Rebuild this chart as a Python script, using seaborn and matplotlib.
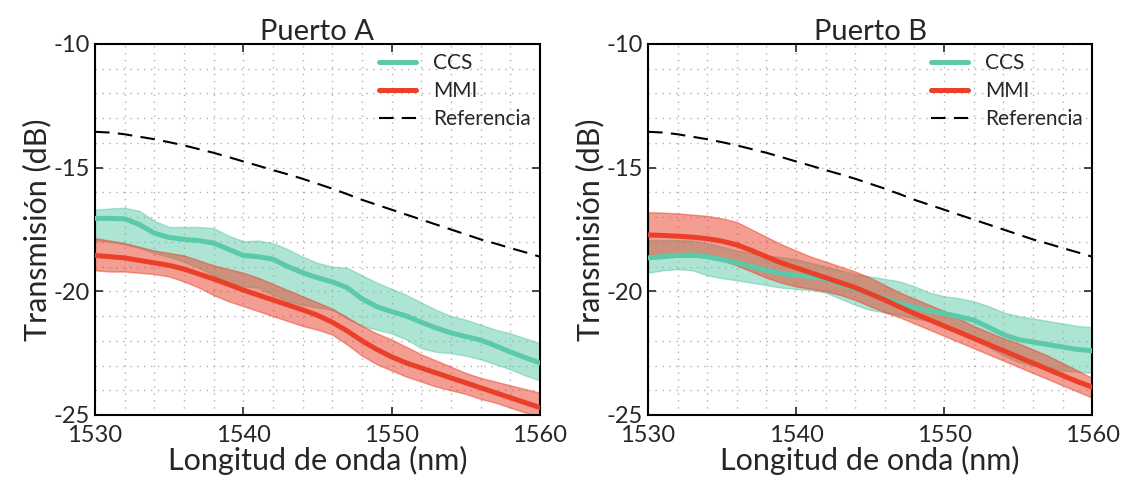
import numpy as np
import pandas as pd
import matplotlib
matplotlib.use("Agg")
import matplotlib.pyplot as plt
import seaborn as sns
from matplotlib.ticker import MultipleLocator

wavelength = list(range(1530, 1561))

reference = [-13.55, -13.58, -13.65, -13.75, -13.85, -13.97, -14.1, -14.25, -14.4, -14.57,
             -14.75, -14.92, -15.1, -15.27, -15.45, -15.65, -15.85, -16.07, -16.3, -16.5,
             -16.7, -16.9, -17.1, -17.3, -17.5, -17.7, -17.9, -18.07, -18.25, -18.42, -18.6]

# Puerto A
ccs_a = [-17.05, -17.05, -17.07, -17.3, -17.65, -17.82, -17.9, -17.95, -18.05, -18.3,
         -18.55, -18.6, -18.7, -19.0, -19.25, -19.45, -19.62, -19.85, -20.3, -20.62,
         -20.82, -21.0, -21.25, -21.48, -21.68, -21.83, -21.97, -22.2, -22.45, -22.68, -22.9]
ccs_a_hi = [-16.7, -16.65, -16.62, -16.75, -17.15, -17.4, -17.4, -17.4, -17.45, -17.75,
            -17.98, -17.95, -18.05, -18.3, -18.6, -18.85, -19.0, -19.05, -19.35, -19.65,
            -19.9, -20.15, -20.45, -20.75, -21.0, -21.15, -21.35, -21.55, -21.7, -21.9, -22.1]
ccs_a_lo = [-17.95, -18.0, -18.1, -18.25, -18.45, -18.6, -18.8, -19.05, -19.35, -19.65,
            -19.8, -19.85, -20.15, -20.4, -20.55, -20.65, -20.75, -21.1, -21.4, -21.55,
            -21.7, -21.95, -22.3, -22.45, -22.5, -22.6, -22.75, -22.95, -23.15, -23.4, -23.6]
mmi_a = [-18.55, -18.6, -18.65, -18.75, -18.85, -18.95, -19.1, -19.3, -19.5, -19.72,
         -19.95, -20.15, -20.35, -20.55, -20.75, -20.97, -21.25, -21.6, -22.0, -22.35,
         -22.65, -22.9, -23.1, -23.3, -23.5, -23.7, -23.9, -24.1, -24.3, -24.5, -24.7]
mmi_a_hi = [-17.85, -17.95, -18.05, -18.2, -18.35, -18.45, -18.55, -18.75, -18.95, -19.1,
            -19.25, -19.45, -19.7, -19.95, -20.2, -20.45, -20.7, -21.05, -21.4, -21.7,
            -21.95, -22.25, -22.55, -22.8, -23.05, -23.3, -23.5, -23.65, -23.8, -23.95, -24.1]
mmi_a_lo = [-19.15, -19.2, -19.2, -19.25, -19.3, -19.4, -19.6, -19.85, -20.15, -20.4,
            -20.6, -20.8, -21.0, -21.2, -21.4, -21.55, -21.75, -22.15, -22.6, -22.95,
            -23.2, -23.45, -23.65, -23.85, -24.0, -24.15, -24.35, -24.5, -24.7, -24.9, -25.1]

# Puerto B
ccs_b = [-18.65, -18.6, -18.55, -18.53, -18.6, -18.72, -18.85, -19.0, -19.15, -19.28,
         -19.35, -19.4, -19.5, -19.7, -19.9, -20.1, -20.3, -20.5, -20.65, -20.78,
         -20.9, -21.02, -21.17, -21.45, -21.75, -21.95, -22.05, -22.15, -22.25, -22.35, -22.4]
ccs_b_hi = [-17.93, -17.93, -17.93, -17.95, -18.05, -18.2, -18.35, -18.45, -18.55, -18.62,
            -18.7, -18.85, -19.0, -19.15, -19.3, -19.4, -19.5, -19.6, -19.8, -20.05,
            -20.2, -20.28, -20.4, -20.6, -20.85, -21.0, -21.1, -21.2, -21.3, -21.4, -21.45]
ccs_b_lo = [-19.25, -19.15, -19.1, -19.15, -19.35, -19.47, -19.55, -19.65, -19.75, -19.85,
            -19.9, -19.95, -20.05, -20.3, -20.55, -20.75, -20.85, -20.95, -21.1, -21.2,
            -21.4, -21.65, -21.95, -22.25, -22.6, -22.85, -23.0, -23.1, -23.2, -23.25, -23.3]
mmi_b = [-17.72, -17.74, -17.77, -17.81, -17.87, -17.97, -18.12, -18.35, -18.6, -18.85,
         -19.05, -19.25, -19.45, -19.65, -19.85, -20.1, -20.35, -20.63, -20.9, -21.15,
         -21.4, -21.65, -21.9, -22.15, -22.4, -22.65, -22.9, -23.15, -23.4, -23.65, -23.87]
mmi_b_hi = [-16.8, -16.82, -16.85, -16.9, -16.95, -17.05, -17.2, -17.5, -17.8, -18.1,
            -18.35, -18.6, -18.8, -19.0, -19.2, -19.45, -19.75, -20.05, -20.3, -20.55,
            -20.8, -21.1, -21.4, -21.65, -21.9, -22.1, -22.35, -22.6, -22.9, -23.2, -23.5]
mmi_b_lo = [-18.6, -18.6, -18.6, -18.6, -18.62, -18.75, -18.95, -19.2, -19.45, -19.65,
            -19.8, -19.9, -20.0, -20.15, -20.35, -20.6, -20.85, -21.05, -21.3, -21.55,
            -21.8, -22.05, -22.3, -22.55, -22.8, -23.05, -23.3, -23.55, -23.8, -24.05, -24.3]

ccs_color = "#5ccaa8"
mmi_color = "#ea3f28"

sns.set_style("ticks")
plt.rcParams["font.family"] = ["Lato", "DejaVu Sans"]
plt.rcParams["axes.unicode_minus"] = False

fig = plt.figure(figsize=(11.28, 4.84), dpi=100)
ax_a = fig.add_axes([0.0842, 0.1426, 0.3945, 0.7665])
ax_b = fig.add_axes([0.5745, 0.1426, 0.3937, 0.7665])

panels = [
    (ax_a, "Puerto A", ccs_a, ccs_a_lo, ccs_a_hi, mmi_a, mmi_a_lo, mmi_a_hi),
    (ax_b, "Puerto B", ccs_b, ccs_b_lo, ccs_b_hi, mmi_b, mmi_b_lo, mmi_b_hi),
]

for ax, title, ccs, ccs_lo, ccs_hi, mmi, mmi_lo, mmi_hi in panels:
    df = pd.DataFrame({"wl": wavelength, "CCS": ccs, "MMI": mmi, "Referencia": reference})
    ax.fill_between(wavelength, ccs_lo, ccs_hi, color=ccs_color, alpha=0.5, lw=1, zorder=2)
    ax.fill_between(wavelength, mmi_lo, mmi_hi, color=mmi_color, alpha=0.5, lw=1, zorder=2)
    sns.lineplot(data=df, x="wl", y="CCS", ax=ax, color=ccs_color, lw=3.6, label="CCS", zorder=3)
    sns.lineplot(data=df, x="wl", y="MMI", ax=ax, color=mmi_color, lw=3.6, label="MMI", zorder=3)
    sns.lineplot(data=df, x="wl", y="Referencia", ax=ax, color="black", lw=1.5,
                 label="Referencia", zorder=3)
    ax.lines[-1].set_dashes([7, 4])

    ax.set_xlim(1530, 1560)
    ax.set_ylim(-25, -10)
    ax.xaxis.set_major_locator(MultipleLocator(10))
    ax.xaxis.set_minor_locator(MultipleLocator(2))
    ax.yaxis.set_major_locator(MultipleLocator(5))
    ax.yaxis.set_minor_locator(MultipleLocator(1))
    ax.grid(which="both", linestyle=(0, (1, 4)), color="#b0b0b0", lw=1, zorder=0)
    ax.tick_params(which="major", direction="in", top=True, right=True,
                   length=6, width=1.2, labelsize=17)
    ax.tick_params(axis="x", pad=7)
    ax.tick_params(which="minor", length=0)
    for s in ax.spines.values():
        s.set_linewidth(1.5)
        s.set_color("black")
    ax.set_title(title, fontsize=21, pad=3)
    ax.set_xlabel("Longitud de onda (nm)", fontsize=22, labelpad=0)
    ax.set_ylabel("Transmisión (dB)", fontsize=22, labelpad=2)
    ax.legend(loc="upper right", frameon=False, fontsize=15, handlelength=1.8,
              borderaxespad=0.05, labelspacing=0.38, handletextpad=0.8)

fig.savefig("out.png", dpi=100)
